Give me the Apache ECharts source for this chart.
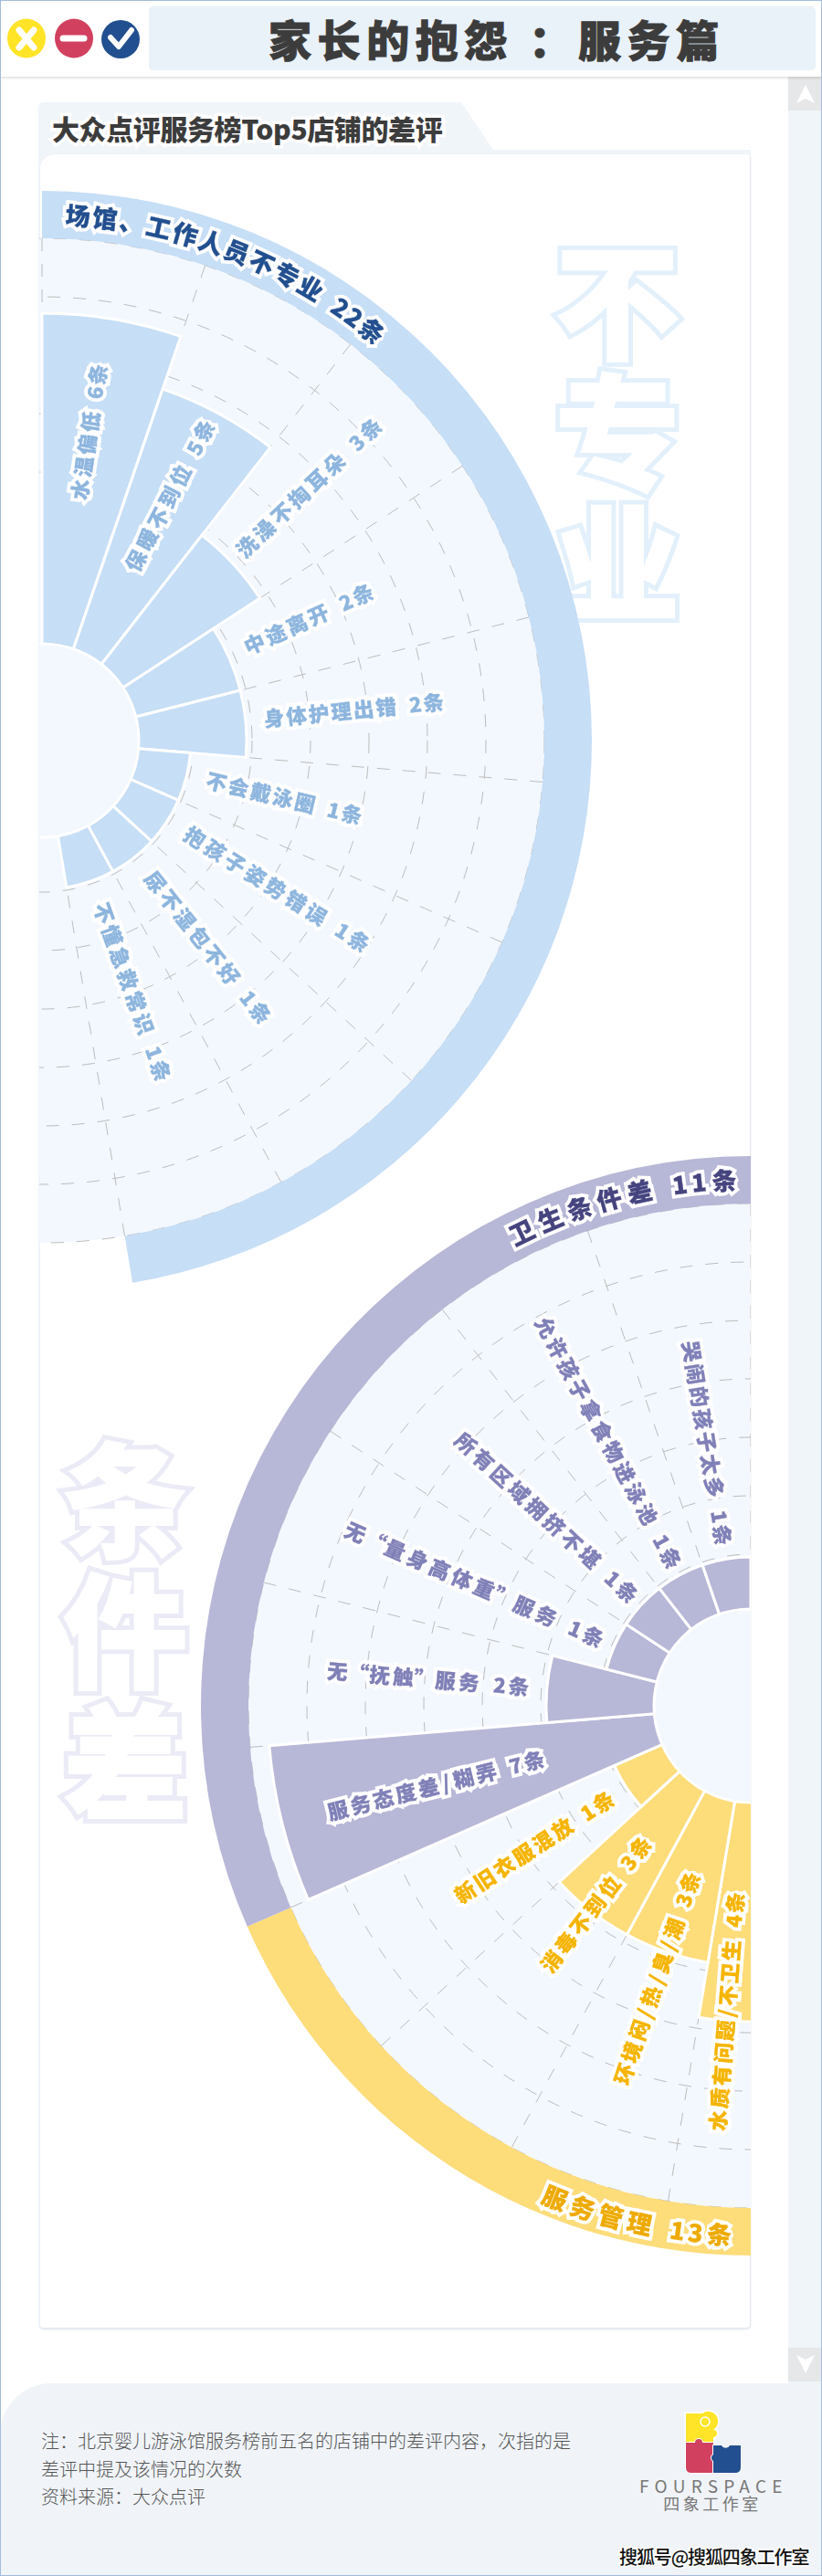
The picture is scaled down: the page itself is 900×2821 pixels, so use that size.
<!DOCTYPE html>
<html>
<head>
<meta charset="utf-8">
<script src="https://cdn.jsdelivr.net/npm/echarts@6/dist/echarts.min.js"></script>
<style>
html, body { margin: 0; padding: 0; background: #fff; }
body { position: relative; width: 900px; height: 2821px; overflow: hidden; font-family: "Noto Sans CJK SC", sans-serif; }
.abs { position: absolute; }
.frame { left: 0; top: 0; width: 898px; height: 2819px; border: 1px solid #a3bbdd; z-index: 20; pointer-events: none; }
.head { left: 0; top: 0; width: 900px; height: 84px; background: #fff; box-shadow: 0 1px 3px rgba(0, 0, 0, .18); }
.title { left: 163px; top: 7px; width: 730px; height: 70px; background: #e9f1f9; border-radius: 5px; }
.title span { position: absolute; left: 131px; top: 5px; font-size: 47px; line-height: 60px; font-weight: 900; letter-spacing: 6.6px; color: #3c3c3c; white-space: pre; -webkit-text-stroke: 1px #3c3c3c; }
.track { left: 863px; top: 84px; width: 37px; height: 2526px; background: #f0f5fa; }
.btn { left: 863px; width: 37px; height: 37px; background: #e6e7e8; }
.tab { left: 42px; top: 112px; width: 780px; height: 2440px; background: #f0f5fa; border-radius: 6px;
  clip-path: polygon(0 0, 463px 0, 498px 52px, 100% 52px, 100% 100%, 0 100%); }
.card { left: 44px; top: 169px; width: 777px; height: 2380px; background: #fff; border-radius: 16px 4px 4px 4px; box-shadow: 1px 1px 3px rgba(0, 0, 0, .08); }
.sub { left: 57px; top: 120px; font-size: 30px; line-height: 40px; font-weight: 900; color: #3c3c3c; white-space: nowrap; letter-spacing: -.4px;
  paint-order: stroke fill; -webkit-text-stroke: 7px #fff; }
.mark { font-size: 136px; line-height: 143px; width: 160px; text-align: center; font-weight: 900; paint-order: stroke fill; color: #fff; }
.foot { left: 0; top: 2610px; width: 900px; height: 211px; background: #f0f4f9; border-top-left-radius: 56px; }
.note { left: 45px; top: 2658px; font-size: 20px; line-height: 30.5px; font-weight: 300; color: #555; white-space: nowrap; }
.brand { color: #777; text-align: center; white-space: nowrap; }
.sohu { left: 678px; top: 2786px; font-size: 20px; line-height: 28px; color: #111; white-space: nowrap; letter-spacing: -1.1px; font-weight: 500;
  paint-order: stroke fill; -webkit-text-stroke: 3px #fff; }
#roseA { position: absolute; left: 43px; top: 190px; width: 620px; height: 1230px; }
#roseB { position: absolute; left: 200px; top: 1250px; width: 622px; height: 1240px; }
</style>
</head>
<body>
<div class="abs track"></div>
<div class="abs btn" style="top:84px"></div>
<svg class="abs" style="left:871px;top:92px" width="22" height="22"><path d="M11 1 L21 21 L11 16 L1 21 Z" fill="#fff"/></svg>
<div class="abs btn" style="top:2571px"></div>
<svg class="abs" style="left:871px;top:2578px" width="22" height="22"><path d="M11 21 L21 1 L11 6 L1 1 Z" fill="#fff"/></svg>

<div class="abs tab"></div>
<div class="abs card"></div>
<div class="abs sub">大众点评服务榜Top5店铺的差评</div>

<div class="abs mark" style="left:596px;top:252px;-webkit-text-stroke:12px #e3f0fc">不<br>专<br>业</div>
<div class="abs mark" style="left:596px;top:252px;-webkit-text-stroke:2px #fff">不<br>专<br>业</div>
<div class="abs mark" style="left:57px;top:1564px;-webkit-text-stroke:12px #ebebf7">条<br>件<br>差</div>
<div class="abs mark" style="left:57px;top:1564px;-webkit-text-stroke:2px #fff">条<br>件<br>差</div>

<div class="abs head"></div>
<svg class="abs" style="left:0;top:0" width="160" height="84">
  <ellipse cx="29" cy="42" rx="21" ry="21.5" fill="#ffe427"/>
  <path d="M21 33 L37 52 M37 33 L21 52" stroke="#fff" stroke-width="7" stroke-linecap="round"/>
  <ellipse cx="81" cy="42" rx="21" ry="21.5" fill="#d2405f"/>
  <path d="M69 42 H92" stroke="#fff" stroke-width="7" stroke-linecap="round"/>
  <ellipse cx="132" cy="43" rx="21" ry="21" fill="#224f8f"/>
  <path d="M121 41 L130 51 L144 33" stroke="#fff" stroke-width="6" fill="none" stroke-linecap="round" stroke-linejoin="round"/>
</svg>
<div class="abs title"><span>家长的抱怨 ：服务篇</span></div>

<div id="roseA"></div>
<div id="roseB"></div>

<div class="abs foot"></div>
<div class="abs note">注：北京婴儿游泳馆服务榜前五名的店铺中的差评内容，次指的是<br>差评中提及该情况的次数<br>资料来源：大众点评</div>
<svg class="abs" style="left:745px;top:2638px" width="72" height="72">
  <path d="M6 5 H24 A9 9 0 0 1 37 22 L36 23 A4 4 0 0 1 36 31 V37 H6 Z" fill="#ffe427" stroke="#fff" stroke-width="3" paint-order="stroke"/>
  <circle cx="27" cy="14" r="5" fill="none" stroke="#fff" stroke-width="1.5"/>
  <path d="M6 37 H16 A4 4 0 0 1 24 37 H36 V50 A4 4 0 0 0 36 57 V70 H12 Q6 70 6 64 Z" fill="#d2405f" stroke="#fff" stroke-width="2" paint-order="stroke"/>
  <path d="M36 40 H45 A5 5 0 0 0 54 40 H66 V64 Q66 70 60 70 H36 V57 A4 4 0 0 1 36 50 Z" fill="#224f8f" stroke="#fff" stroke-width="2" paint-order="stroke"/>
</svg>
<div class="abs brand" style="left:700px;top:2711px;width:160px;font-size:19px;line-height:22px;letter-spacing:6.2px">FOURSPACE</div>
<div class="abs brand" style="left:700px;top:2730px;width:160px;font-size:18px;line-height:22px;letter-spacing:3.5px">四象工作室</div>
<div class="abs sohu">搜狐号@搜狐四象工作室</div>
<div class="abs frame"></div>

<script>
// 不专业 half (clockwise from the top)
const namesA = ['水温偏低', '保暖不到位', '洗澡不掏耳朵', '中途离开', '身体护理出错', '不会戴泳圈', '抱孩子姿势错误', '尿不湿包不好', '不懂急救常识']
const valuesA = [6, 5, 3, 2, 2, 1, 1, 1, 1]
// 条件差 half (continues clockwise)
const namesB = ['水质有问题/不卫生', '环境闷/热/臭/潮', '消毒不到位', '新旧衣服混放', '服务态度差/糊弄', '无“抚触”服务', '无“量身高体重”服务', '所有区域拥挤不堪', '允许孩子拿食物进泳池', '哭闹的孩子太多']
const valuesB = [4, 3, 3, 1, 7, 2, 1, 1, 1, 1]
const groupTitles = ['场馆、工作人员不专业 22条', '服务管理 13条', '卫生条件差 11条']

const SECTOR = 360 / (valuesA.length + valuesB.length)
const R0 = 102 // radius of value 0
const PER = 61 // px per review
const STEP = 64 // grid spacing
const HOLE = 106
const RING_IN = 550
const RING_OUT = 602
const BLUE = { fill: '#c6def6', label: '#8db5de', title: '#224f8f' }
const YELLOW = { fill: '#fddc7a', label: '#f5b400', title: '#eeaa00' }
const PURPLE = { fill: '#b7b7d7', label: '#8080b8', title: '#45447f' }

// [start radius, end radius] of the radial labels, the text runs between them
const spanA = [[266, 418], [209, 396], [296, 509], [243, 399], [243, 443], [184, 361], [185, 424], [186, 395], [188, 397]]
const spanB = [[468, 204], [439, 192], [368, 184], [386, 180], [479, 232], [467, 242], [486, 175], [437, 171], [484, 171], [406, 177]]

function charWidth(c) {
  if (c === ' ') return 0.5
  if (/[0-9]/.test(c)) return 0.62
  if (c === '/') return 0.55
  if (c === '“' || c === '”') return 0.8
  return 1
}

// one text element per character, placed around the rose centre
function charText(c, cx, cy, theta, r, rot, size, color) {
  const a = theta * Math.PI / 180
  const base = {
    type: 'text',
    silent: true,
    x: cx + r * Math.sin(a),
    y: cy - r * Math.cos(a),
    rotation: -rot * Math.PI / 180
  }
  const font = '900 ' + size + 'px "Noto Sans CJK SC"'
  return [
    Object.assign({}, base, { z: 10, style: { text: c, font, fill: '#fff', stroke: '#fff', lineWidth: 8, align: 'center', verticalAlign: 'middle' } }),
    Object.assign({}, base, { z: 11, style: { text: c, font, fill: color, stroke: color, lineWidth: 0.3, align: 'center', verticalAlign: 'middle' } })
  ]
}

function radialLabel(text, cx, cy, theta, r1, r2, rot, size, color) {
  const chars = text.split('')
  const total = chars.reduce((s, c) => s + charWidth(c), 0)
  const unit = (r2 - r1) / total
  let pos = 0
  let out = []
  chars.forEach(c => {
    const w = charWidth(c)
    out = out.concat(charText(c, cx, cy, theta, r1 + (pos + w / 2) * unit, rot, size, color))
    pos += w
  })
  return out
}

function arcLabel(text, cx, cy, t1, t2, r, size, color, bottom) {
  const chars = text.split('')
  const total = chars.reduce((s, c) => s + charWidth(c), 0)
  const unit = (t2 - t1) / total
  let pos = 0
  let out = []
  chars.forEach(c => {
    const w = charWidth(c)
    const t = t1 + (pos + w / 2) * unit
    out = out.concat(charText(c, cx, cy, t, r, bottom ? t - 180 : t, size, color))
    pos += w
  })
  return out
}

function barItem(value, color) {
  return { value, itemStyle: { color } }
}

function makeOption(cx, cy, barData, ringData, graphic) {
  const plain = { show: false }
  const pieBase = {
    type: 'pie',
    center: [cx, cy],
    startAngle: 90,
    clockwise: true,
    silent: true,
    animation: false,
    label: plain,
    labelLine: plain
  }
  return {
    animation: false,
    polar: { center: [cx, cy], radius: [R0, RING_IN] },
    angleAxis: {
      type: 'category',
      data: namesA.concat(namesB),
      startAngle: 90,
      clockwise: true,
      boundaryGap: true,
      silent: true,
      axisLine: plain,
      axisTick: plain,
      axisLabel: plain,
      splitLine: { show: true, lineStyle: { color: '#bcbcbc', width: 1, type: [14, 14] } }
    },
    radiusAxis: {
      type: 'value',
      min: 0,
      max: STEP / PER * 7,
      interval: STEP / PER,
      silent: true,
      axisLine: plain,
      axisTick: plain,
      axisLabel: plain,
      splitLine: { show: true, lineStyle: { color: '#bcbcbc', width: 1, type: [14, 14] } }
    },
    graphic: { elements: graphic },
    series: [
      Object.assign({}, pieBase, { z: -1, radius: [0, RING_IN], data: [{ value: 1, itemStyle: { color: '#f3f8ff' } }] }),
      Object.assign({}, pieBase, { z: 1, radius: [RING_IN, RING_OUT], data: ringData }),
      {
        type: 'bar',
        coordinateSystem: 'polar',
        barWidth: '100%',
        barCategoryGap: 0,
        silent: true,
        z: 2,
        itemStyle: { borderColor: '#fff', borderWidth: 3 },
        data: barData
      },
      Object.assign({}, pieBase, {
        z: 3,
        radius: [0, HOLE],
        data: [{ value: 1, itemStyle: { color: '#f3f8ff', borderColor: '#fff', borderWidth: 3 } }]
      })
    ]
  }
}

// half A
const centerA = [3, 621]
let textA = arcLabel(groupTitles[0], centerA[0], centerA[1], 2.4, 40.3, 576, 27, BLUE.title, false)
namesA.forEach((n, i) => {
  const theta = (i + 0.5) * SECTOR - 0.8
  textA = textA.concat(radialLabel(n + ' ' + valuesA[i] + '条', centerA[0], centerA[1], theta, spanA[i][0], spanA[i][1], theta - 90, 22.5, BLUE.label))
})
const barsA = valuesA.map(v => barItem(v, BLUE.fill)).concat(valuesB.map(() => null))
const ringA = [
  { value: valuesA.length, itemStyle: { color: BLUE.fill } },
  { value: valuesB.length, itemStyle: { color: 'transparent' } }
]
echarts.init(document.getElementById('roseA')).setOption(makeOption(centerA[0], centerA[1], barsA, ringA, textA))

// half B, yellow first 4 sectors then purple
const centerB = [622, 618]
let textB = arcLabel(groupTitles[1], centerB[0], centerB[1], 203.3, 181.8, 580, 27, YELLOW.title, true)
textB = textB.concat(arcLabel(groupTitles[2], centerB[0], centerB[1], 332.5, 358.8, 576, 27, PURPLE.title, false))
namesB.forEach((n, i) => {
  const style = i < 4 ? YELLOW : PURPLE
  // first sector is cut by the card edge, its label sits in the visible part
  const theta = i === 0 ? 184.5 : (valuesA.length + i + 0.5) * SECTOR
  textB = textB.concat(radialLabel(n + ' ' + valuesB[i] + '条', centerB[0], centerB[1], theta, spanB[i][0], spanB[i][1], theta + 90, 22.5, style.label))
})
const barsB = valuesA.map(() => null).concat(valuesB.map((v, i) => barItem(v, i < 4 ? YELLOW.fill : PURPLE.fill)))
const ringB = [
  { value: valuesA.length, itemStyle: { color: 'transparent' } },
  { value: 4, itemStyle: { color: YELLOW.fill } },
  { value: 6, itemStyle: { color: PURPLE.fill } }
]
echarts.init(document.getElementById('roseB')).setOption(makeOption(centerB[0], centerB[1], barsB, ringB, textB))
</script>
</body>
</html>
